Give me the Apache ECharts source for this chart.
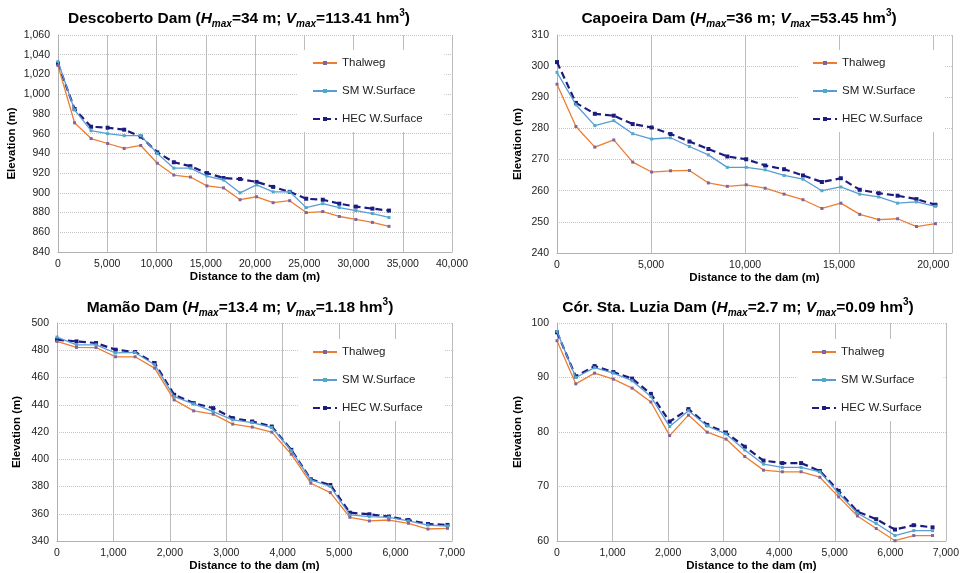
<!DOCTYPE html>
<html><head><meta charset="utf-8">
<script src="https://cdn.jsdelivr.net/npm/echarts@6/dist/echarts.min.js"></script>
<style>html,body{margin:0;padding:0;background:#fff}#c{width:962px;height:573px}</style>
</head><body><div id="c"></div>
<script>
// ---- Data ----
const descX = [0,1680,3360,5040,6720,8400,10080,11760,13440,15120,16800,18480,20160,21840,23520,25200,26880,28560,30240,31920,33600];
const descThalweg = [1029,971,955,950,945,948,930,918,916,907,905,893,896,890,892,880,881,876,873,870,866];
const descSM = [1033,984,963,960,958,958,940,925,925,917,913,900,908,901,901,885,889,885,882,879,875];
const descHEC = [1031,985,967,966,964,957,941,931,927,920,915,914,911,906,901,894,893,889,886,884,882];

const capX = [0,1006,2012,3018,4024,5030,6036,7042,8048,9054,10060,11066,12072,13078,14084,15090,16096,17102,18108,19114,20120];
const capThalweg = [294.2,280.6,274,276.3,269.2,266,266.4,266.5,262.5,261.4,261.9,260.8,258.9,257.1,254.3,256,252.4,250.7,251,248.5,249.4];
const capSM = [298,287.6,280.9,282.5,278.3,276.6,277,274.2,271.5,267.5,267.5,266.7,264.9,263.7,260,261.2,258.9,258,256,256.4,255];
const capHEC = [301.3,288.2,284.7,284.1,281.4,280.3,278.2,275.8,273.4,271,270.1,268.1,266.9,264.9,262.8,264,260.3,259.2,258.4,257.3,255.5];

const mamX = [0,346,692,1038,1384,1730,2076,2422,2768,3114,3460,3806,4152,4498,4844,5190,5536,5882,6228,6574,6920];
const mamThalweg = [486.5,482.1,482,475.2,475.2,466.9,443.6,435.5,433.1,425.8,423.6,419.9,403.7,382.4,375.5,357.4,354.7,355.4,353,348.8,349.3];
const mamSM = [489.7,484,484,478,478.4,469.4,446,440.7,435,428.9,426.9,423.3,406.4,384.8,380,359.1,357.9,357.4,354.7,351.7,351];
const mamHEC = [487.7,486.5,485.3,480.4,478.7,470.6,447.3,441.2,437.5,430.2,427.7,424,406.9,385.3,381.1,360.8,359.6,357.9,355.4,352.5,351.8];

const luzX = [0,338,676,1014,1352,1690,2028,2366,2704,3042,3380,3718,4056,4394,4732,5070,5408,5746,6084,6422,6760];
const luzThalweg = [96.75,88.84,90.8,89.7,88.05,85.5,79.34,83.1,79.96,78.7,75.5,73.0,72.7,72.7,71.7,68.1,64.6,62.3,60.05,61.0,61.0];
const luzSM = [98.46,90,91.8,90.8,89.4,86.5,81.0,83.9,81.1,79.65,76.7,74.1,73.5,73.5,72.7,68.75,65.1,63.2,61,61.9,61.9];
const luzHEC = [98.3,90.2,92.1,91,89.8,87,81.9,84.2,81.3,79.9,77.3,74.75,74.3,74.3,72.85,69.2,65.4,64,62.1,62.9,62.5];

const seriesNames = ['Thalweg','SM W.Surface','HEC W.Surface'];
const xAxisName = 'Distance to the dam (m)';
const yAxisName = 'Elevation (m)';

const panels = [
  {title:'{b|Descoberto Dam (}{i|H}{s|max}{b|=34 m; }{i|V}{s|max}{b|=113.41 hm}{p|3}{b|)}',
   x:descX, ys:[descThalweg,descSM,descHEC], xmin:0,xmax:40000,xint:5000, ymin:840,ymax:1060,yint:20},
  {title:'{b|Capoeira Dam (}{i|H}{s|max}{b|=36 m; }{i|V}{s|max}{b|=53.45 hm}{p|3}{b|)}',
   x:capX, ys:[capThalweg,capSM,capHEC], xmin:0,xmax:21000,xint:5000, ymin:240,ymax:310,yint:10},
  {title:'{b|Mamão Dam (}{i|H}{s|max}{b|=13.4 m; }{i|V}{s|max}{b|=1.18 hm}{p|3}{b|)}',
   x:mamX, ys:[mamThalweg,mamSM,mamHEC], xmin:0,xmax:7000,xint:1000, ymin:340,ymax:500,yint:20},
  {title:'{b|Cór. Sta. Luzia Dam (}{i|H}{s|max}{b|=2.7 m; }{i|V}{s|max}{b|=0.09 hm}{p|3}{b|)}',
   x:luzX, ys:[luzThalweg,luzSM,luzHEC], xmin:0,xmax:7000,xint:1000, ymin:60,ymax:100,yint:10}
];

// ---- Layout / style ----
const FONT = 'Liberation Sans';
const layout = [
  {grid:{left:58, top:35, width:394, height:217}, titleX:234, titleY:3, legend:{left:298, top:50}, yGap:40},
  {grid:{left:557, top:35, width:395, height:218}, titleX:734, titleY:3, legend:{left:798, top:50}, yGap:33},
  {grid:{left:57, top:323, width:395, height:218}, titleX:235, titleY:292, legend:{left:298, top:339}, yGap:34},
  {grid:{left:557, top:323, width:393, height:218}, titleX:733, titleY:292, legend:{left:797, top:339}, yGap:33}
];
const lineColors = ['#ED7D31','#5B9BD5','#1C1C80'];
const markColors = ['#8064A2','#4BACC6','#1C1C80'];
const fmt = v => Number(v).toLocaleString('en-US');

const richBase = {fontFamily:FONT, fontWeight:'bold', color:'#000'};
const rich = {
  b:Object.assign({fontSize:15.5}, richBase),
  i:Object.assign({fontSize:15.5, fontStyle:'italic'}, richBase),
  s:Object.assign({fontSize:10, fontStyle:'italic', verticalAlign:'bottom', lineHeight:21}, richBase),
  p:Object.assign({fontSize:10, verticalAlign:'top', lineHeight:21}, richBase)
};

const option = {backgroundColor:'#fff', animation:false, title:[], grid:[], xAxis:[], yAxis:[], legend:[], series:[]};
panels.forEach((p, k) => {
  const L = layout[k];
  option.title.push({text:p.title, left:L.titleX, top:L.titleY, textAlign:'center', textStyle:{rich:rich}});
  option.grid.push(Object.assign({containLabel:false}, L.grid));
  option.xAxis.push({type:'value', gridIndex:k, min:p.xmin, max:p.xmax, interval:p.xint,
    name:xAxisName, nameLocation:'middle', nameGap:18,
    nameTextStyle:{fontFamily:FONT, fontWeight:'bold', fontSize:11.5, color:'#000'},
    axisLine:{show:true, lineStyle:{color:'#b0b0b0'}}, axisTick:{show:false},
    axisLabel:{formatter:fmt, fontFamily:FONT, fontSize:10.5, color:'#222', margin:7, showMaxLabel: p.xmax % p.xint === 0},
    splitLine:{show:true, lineStyle:{color:'#bdbdbd', width:1}}});
  option.yAxis.push({type:'value', gridIndex:k, min:p.ymin, max:p.ymax, interval:p.yint,
    name:yAxisName, nameLocation:'middle', nameGap:L.yGap, nameRotate:90,
    nameTextStyle:{fontFamily:FONT, fontWeight:'bold', fontSize:11.5, color:'#000'},
    axisLine:{show:true, lineStyle:{color:'#b0b0b0'}}, axisTick:{show:false},
    axisLabel:{formatter:fmt, fontFamily:FONT, fontSize:10.5, color:'#222', margin:8},
    splitLine:{show:true, lineStyle:{color:'#c4c4c4', type:'dotted', width:1}}});
  option.legend.push({left:L.legend.left, top:L.legend.top, orient:'vertical', data:seriesNames,
    backgroundColor:'#fff', padding:[6,22,6,14], itemGap:14, itemWidth:24, itemHeight:5,
    textStyle:{fontFamily:FONT, fontSize:11.5, color:'#222', lineHeight:14}, selectedMode:false});
  p.ys.forEach((ys, j) => {
    option.series.push({type:'line', name:seriesNames[j], xAxisIndex:k, yAxisIndex:k,
      data:p.x.map((xv, i) => [xv, ys[i]]),
      symbol:'rect', symbolSize: j===2 ? 4 : 3, showSymbol:true,
      lineStyle:{color:lineColors[j], width: j===2 ? 2.2 : 1.3, type: j===2 ? [7,4] : 'solid'},
      itemStyle:{color:markColors[j]}, z: 3 - j + 2});
  });
});

const chart = echarts.init(document.getElementById('c'), null, {renderer:'canvas'});
chart.setOption(option);
</script></body></html>
